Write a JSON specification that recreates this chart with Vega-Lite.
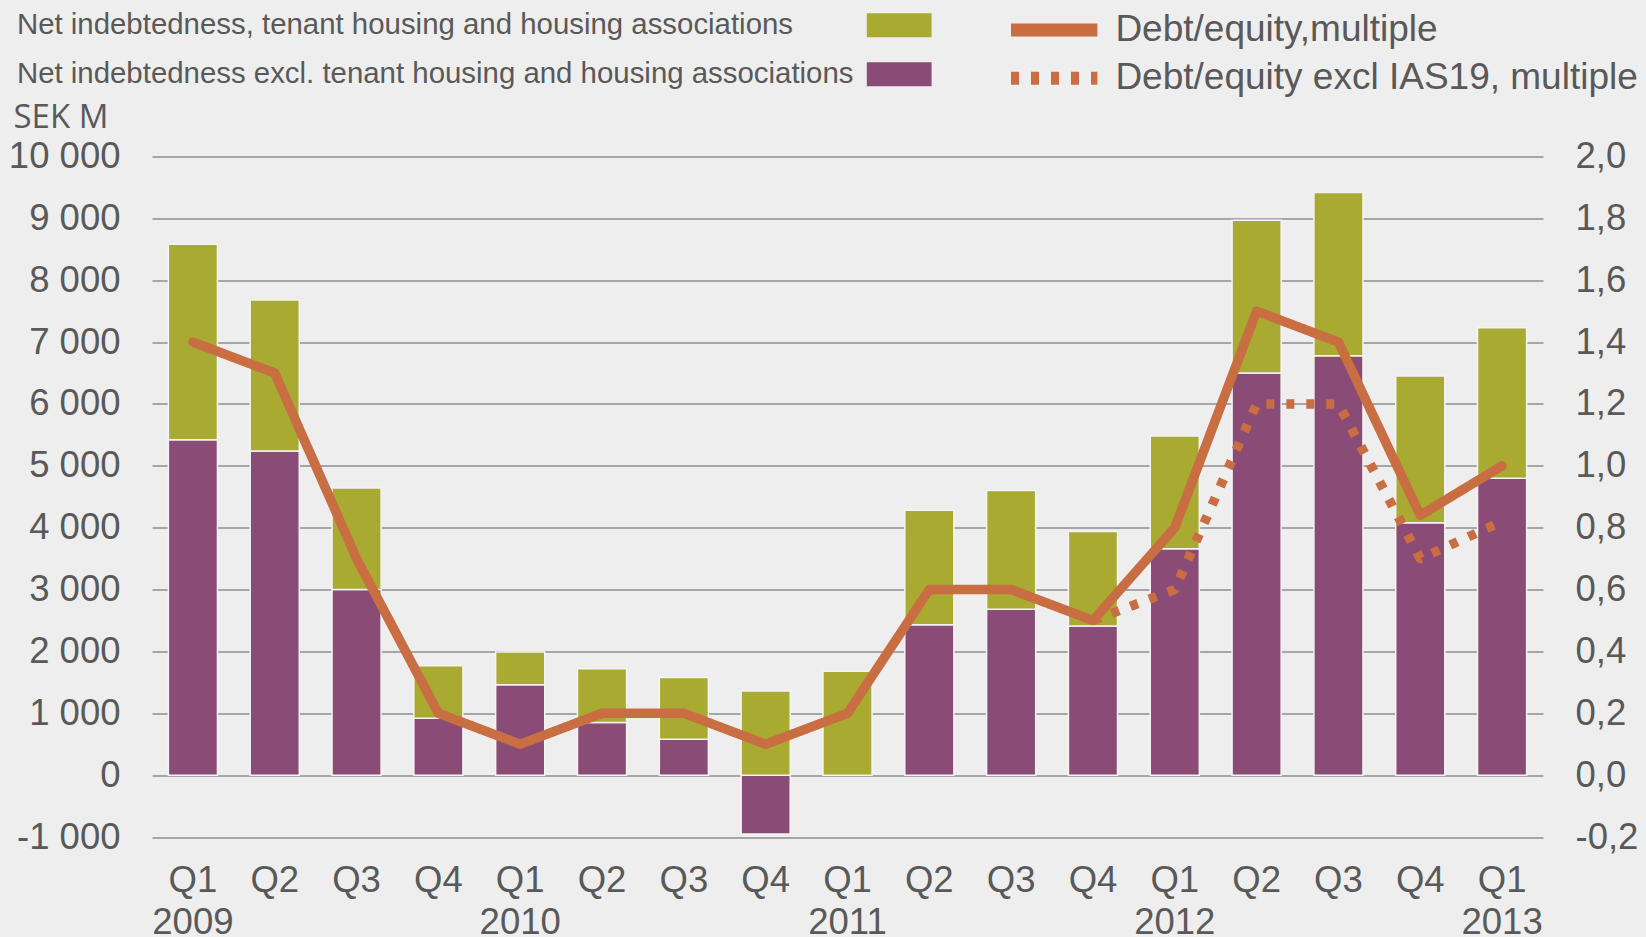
{
  "$schema": "https://vega.github.io/schema/vega-lite/v6.json",
  "autosize": {"type": "none"},
  "width": 1391,
  "height": 680.5,
  "padding": {"left": 152, "top": 156.5, "right": 103, "bottom": 100},
  "background": "#EEEEEE",
  "config": {
    "view": {"stroke": null},
    "font": "Liberation Sans",
    "axis": {"labelColor": "#595959", "titleColor": "#595959", "domain": false, "ticks": false}
  },
  "datasets": {
    "bars": [
      {"q": "Q1 2009", "series": "Net indebtedness excl. tenant housing and housing associations", "value": 5420},
      {"q": "Q1 2009", "series": "Net indebtedness, tenant housing and housing associations", "value": 3160},
      {"q": "Q2 2009", "series": "Net indebtedness excl. tenant housing and housing associations", "value": 5240},
      {"q": "Q2 2009", "series": "Net indebtedness, tenant housing and housing associations", "value": 2440},
      {"q": "Q3 2009", "series": "Net indebtedness excl. tenant housing and housing associations", "value": 3000},
      {"q": "Q3 2009", "series": "Net indebtedness, tenant housing and housing associations", "value": 1640},
      {"q": "Q4 2009", "series": "Net indebtedness excl. tenant housing and housing associations", "value": 920},
      {"q": "Q4 2009", "series": "Net indebtedness, tenant housing and housing associations", "value": 850},
      {"q": "Q1 2010", "series": "Net indebtedness excl. tenant housing and housing associations", "value": 1460},
      {"q": "Q1 2010", "series": "Net indebtedness, tenant housing and housing associations", "value": 530},
      {"q": "Q2 2010", "series": "Net indebtedness excl. tenant housing and housing associations", "value": 850},
      {"q": "Q2 2010", "series": "Net indebtedness, tenant housing and housing associations", "value": 870},
      {"q": "Q3 2010", "series": "Net indebtedness excl. tenant housing and housing associations", "value": 580},
      {"q": "Q3 2010", "series": "Net indebtedness, tenant housing and housing associations", "value": 1000},
      {"q": "Q4 2010", "series": "Net indebtedness excl. tenant housing and housing associations", "value": -950},
      {"q": "Q4 2010", "series": "Net indebtedness, tenant housing and housing associations", "value": 1360},
      {"q": "Q1 2011", "series": "Net indebtedness excl. tenant housing and housing associations", "value": 0},
      {"q": "Q1 2011", "series": "Net indebtedness, tenant housing and housing associations", "value": 1680},
      {"q": "Q2 2011", "series": "Net indebtedness excl. tenant housing and housing associations", "value": 2430},
      {"q": "Q2 2011", "series": "Net indebtedness, tenant housing and housing associations", "value": 1850},
      {"q": "Q3 2011", "series": "Net indebtedness excl. tenant housing and housing associations", "value": 2680},
      {"q": "Q3 2011", "series": "Net indebtedness, tenant housing and housing associations", "value": 1920},
      {"q": "Q4 2011", "series": "Net indebtedness excl. tenant housing and housing associations", "value": 2410},
      {"q": "Q4 2011", "series": "Net indebtedness, tenant housing and housing associations", "value": 1530},
      {"q": "Q1 2012", "series": "Net indebtedness excl. tenant housing and housing associations", "value": 3660},
      {"q": "Q1 2012", "series": "Net indebtedness, tenant housing and housing associations", "value": 1820},
      {"q": "Q2 2012", "series": "Net indebtedness excl. tenant housing and housing associations", "value": 6500},
      {"q": "Q2 2012", "series": "Net indebtedness, tenant housing and housing associations", "value": 2470},
      {"q": "Q3 2012", "series": "Net indebtedness excl. tenant housing and housing associations", "value": 6780},
      {"q": "Q3 2012", "series": "Net indebtedness, tenant housing and housing associations", "value": 2640},
      {"q": "Q4 2012", "series": "Net indebtedness excl. tenant housing and housing associations", "value": 4080},
      {"q": "Q4 2012", "series": "Net indebtedness, tenant housing and housing associations", "value": 2370},
      {"q": "Q1 2013", "series": "Net indebtedness excl. tenant housing and housing associations", "value": 4800},
      {"q": "Q1 2013", "series": "Net indebtedness, tenant housing and housing associations", "value": 2430}
    ],
    "lines": [
      {"q": "Q1 2009", "series": "Debt/equity,multiple", "value": 1.4},
      {"q": "Q2 2009", "series": "Debt/equity,multiple", "value": 1.3},
      {"q": "Q3 2009", "series": "Debt/equity,multiple", "value": 0.7},
      {"q": "Q4 2009", "series": "Debt/equity,multiple", "value": 0.2},
      {"q": "Q1 2010", "series": "Debt/equity,multiple", "value": 0.1},
      {"q": "Q2 2010", "series": "Debt/equity,multiple", "value": 0.2},
      {"q": "Q3 2010", "series": "Debt/equity,multiple", "value": 0.2},
      {"q": "Q4 2010", "series": "Debt/equity,multiple", "value": 0.1},
      {"q": "Q1 2011", "series": "Debt/equity,multiple", "value": 0.2},
      {"q": "Q2 2011", "series": "Debt/equity,multiple", "value": 0.6},
      {"q": "Q3 2011", "series": "Debt/equity,multiple", "value": 0.6},
      {"q": "Q4 2011", "series": "Debt/equity,multiple", "value": 0.5},
      {"q": "Q1 2012", "series": "Debt/equity,multiple", "value": 0.8},
      {"q": "Q2 2012", "series": "Debt/equity,multiple", "value": 1.5},
      {"q": "Q3 2012", "series": "Debt/equity,multiple", "value": 1.4},
      {"q": "Q4 2012", "series": "Debt/equity,multiple", "value": 0.84},
      {"q": "Q1 2013", "series": "Debt/equity,multiple", "value": 1.0},
      {"q": "Q4 2011", "series": "Debt/equity excl IAS19, multiple", "value": 0.5},
      {"q": "Q1 2012", "series": "Debt/equity excl IAS19, multiple", "value": 0.6},
      {"q": "Q2 2012", "series": "Debt/equity excl IAS19, multiple", "value": 1.2},
      {"q": "Q3 2012", "series": "Debt/equity excl IAS19, multiple", "value": 1.2},
      {"q": "Q4 2012", "series": "Debt/equity excl IAS19, multiple", "value": 0.7},
      {"q": "Q1 2013", "series": "Debt/equity excl IAS19, multiple", "value": 0.82}
    ]
  },
  "encoding": {
    "x": {
      "field": "q",
      "type": "nominal",
      "scale": {
        "domain": ["Q1 2009","Q2 2009","Q3 2009","Q4 2009","Q1 2010","Q2 2010","Q3 2010","Q4 2010","Q1 2011","Q2 2011","Q3 2011","Q4 2011","Q1 2012","Q2 2012","Q3 2012","Q4 2012","Q1 2013"],
        "paddingInner": 0.4,
        "paddingOuter": 0.2
      },
      "axis": {
        "title": null,
        "labelAngle": 0,
        "labelFontSize": 36.5,
        "labelPadding": 25,
        "labelLineHeight": 42,
        "labelExpr": "indexof(datum.value, 'Q1') == 0 ? [slice(datum.value, 0, 2), slice(datum.value, 3)] : slice(datum.value, 0, 2)"
      }
    }
  },
  "layer": [
    {
      "layer": [
        {
          "data": {"name": "bars"},
          "mark": {"type": "bar", "stroke": "#F4F4F4", "strokeWidth": 1.5},
          "encoding": {
            "y": {
              "field": "value",
              "type": "quantitative",
              "stack": "zero",
              "scale": {"domain": [-1000, 10000], "nice": false, "zero": false},
              "axis": {
                "orient": "left",
                "values": [-1000,0,1000,2000,3000,4000,5000,6000,7000,8000,9000,10000],
                "labelExpr": "replace(replace(format(datum.value, ',d'), ',', ' '), '\u2212', '-')",
                "labelFontSize": 36.5,
                "labelPadding": 32,
                "grid": true,
                "gridColor": "#A6A6A6",
                "gridWidth": 2,
                "title": "SEK M",
                "titleFont": "Open Sans",
                "titleFontSize": 33,
                "titleFontWeight": "normal",
                "titleAngle": 0,
                "titleAlign": "left",
                "titleBaseline": "alphabetic",
                "titleX": -139,
                "titleY": -29.5
              }
            },
            "fill": {
              "field": "series",
              "type": "nominal",
              "scale": {
                "domain": ["Net indebtedness, tenant housing and housing associations", "Net indebtedness excl. tenant housing and housing associations"],
                "range": ["#A9AA32", "#8A4C76"]
              },
              "legend": {
                "title": null,
                "orient": "none",
                "legendX": 732.5,
                "legendY": -146,
                "direction": "vertical",
                "padding": 0,
                "rowPadding": 18,
                "symbolType": "M-2.7,-1H2.7V1H-2.7Z",
                "symbolSize": 576,
                "symbolStrokeWidth": 0,
                "symbolOpacity": 1,
                "labelOffset": -897,
                "labelFontSize": 29.4,
                "labelColor": "#595959",
                "labelLimit": 1500
              }
            },
            "order": {"field": "series", "sort": "ascending"}
          }
        },
        {
          "mark": {"type": "rule", "color": "#595959", "strokeWidth": 5.5},
          "encoding": {"y": {"datum": 0, "type": "quantitative"}}
        }
      ]
    },
    {
      "data": {"name": "lines"},
      "encoding": {
        "y": {
          "field": "value",
          "type": "quantitative",
          "scale": {"domain": [-0.2, 2.0], "nice": false, "zero": false},
          "axis": {
            "orient": "right",
            "values": [-0.2,0,0.2,0.4,0.6,0.8,1.0,1.2,1.4,1.6,1.8,2.0],
            "labelExpr": "replace(replace(format(datum.value, '.1f'), '.', ','), '\u2212', '-')",
            "labelFontSize": 36.5,
            "labelPadding": 32,
            "grid": false,
            "title": null
          }
        },
        "stroke": {
          "field": "series",
          "type": "nominal",
          "scale": {
            "domain": ["Debt/equity,multiple", "Debt/equity excl IAS19, multiple"],
            "range": ["#C96D43", "#C96D43"]
          },
          "legend": {
            "title": null,
            "orient": "none",
            "legendX": 883.7,
            "legendY": -145,
            "direction": "vertical",
            "padding": 0,
            "rowPadding": -4.7,
            "symbolType": "M-3.6,0H3.6",
            "symbolSize": 576,
            "symbolStrokeWidth": 13,
            "labelOffset": 42.7,
            "labelFontSize": 37,
            "labelColor": "#595959",
            "labelLimit": 1500
          }
        },
        "strokeDash": {
          "field": "series",
          "type": "nominal",
          "scale": {
            "domain": ["Debt/equity,multiple", "Debt/equity excl IAS19, multiple"],
            "range": [[1, 0], [8, 12]]
          },
          "legend": {
            "title": null,
            "orient": "none",
            "legendX": 883.7,
            "legendY": -145,
            "direction": "vertical",
            "padding": 0,
            "rowPadding": -4.7,
            "symbolType": "M-3.6,0H3.6",
            "symbolSize": 576,
            "symbolStrokeWidth": 13,
            "labelOffset": 42.7,
            "labelFontSize": 37,
            "labelColor": "#595959",
            "labelLimit": 1500
          }
        }
      },
      "layer": [
        {
          "transform": [{"filter": "datum.series === 'Debt/equity,multiple'"}],
          "mark": {"type": "line", "strokeWidth": 9.5, "strokeCap": "round", "strokeJoin": "round"}
        },
        {
          "transform": [{"filter": "datum.series === 'Debt/equity excl IAS19, multiple'"}],
          "mark": {"type": "line", "strokeWidth": 9.5, "strokeCap": "butt", "strokeJoin": "round"}
        }
      ]
    }
  ],
  "resolve": {"scale": {"y": "independent"}}
}
